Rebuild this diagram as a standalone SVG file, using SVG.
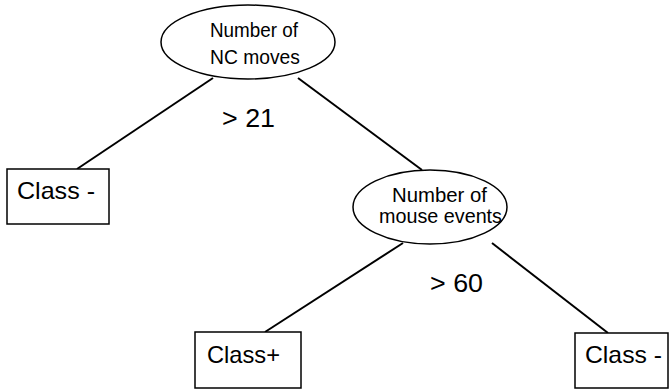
<svg xmlns="http://www.w3.org/2000/svg" width="670" height="390" viewBox="0 0 670 390">
<style>
.shape{fill:#fff;stroke:#000;stroke-width:1.5}
.edge{stroke:#000;stroke-width:2;fill:none}
text{font-family:"Liberation Sans",Arial,sans-serif;fill:#000}
.t{font-size:21px}
.b{font-size:24px}
.l{font-size:26px}
</style>
<rect width="670" height="390" fill="#fff"/>
<g id="connectors">
<line class="edge" x1="213" y1="78" x2="77" y2="169"/>
<line class="edge" x1="298" y1="78" x2="422" y2="170"/>
<line class="edge" x1="403" y1="243" x2="265" y2="332"/>
<line class="edge" x1="492" y1="243" x2="608" y2="333"/>
</g>
<g id="n1">
<ellipse class="shape" cx="248" cy="42" rx="87" ry="37"/>
<text class="t" x="210" y="37" textLength="88" lengthAdjust="spacingAndGlyphs">Number of</text>
<text class="t" x="210" y="64" textLength="90" lengthAdjust="spacingAndGlyphs">NC moves</text>
</g>
<g id="n2">
<rect class="shape" x="7" y="169" width="102" height="55"/>
<text class="b" x="17" y="199" textLength="78" lengthAdjust="spacingAndGlyphs">Class -</text>
</g>
<g id="n3">
<ellipse class="shape" cx="430" cy="207" rx="77" ry="37"/>
<text class="t" x="392" y="202" textLength="95" lengthAdjust="spacingAndGlyphs">Number of</text>
<text class="t" x="379" y="223" textLength="123" lengthAdjust="spacingAndGlyphs">mouse events</text>
</g>
<g id="n4">
<rect class="shape" x="195" y="332" width="106" height="56"/>
<text class="b" x="207" y="363" textLength="73" lengthAdjust="spacingAndGlyphs">Class+</text>
</g>
<g id="n5">
<rect class="shape" x="575" y="333" width="93" height="55"/>
<text class="b" x="585" y="363" textLength="77" lengthAdjust="spacingAndGlyphs">Class -</text>
</g>
<g id="labels">
<text class="l" x="222" y="127" textLength="53" lengthAdjust="spacingAndGlyphs">&gt; 21</text>
<text class="l" x="430" y="292" textLength="53" lengthAdjust="spacingAndGlyphs">&gt; 60</text>
</g>
</svg>
